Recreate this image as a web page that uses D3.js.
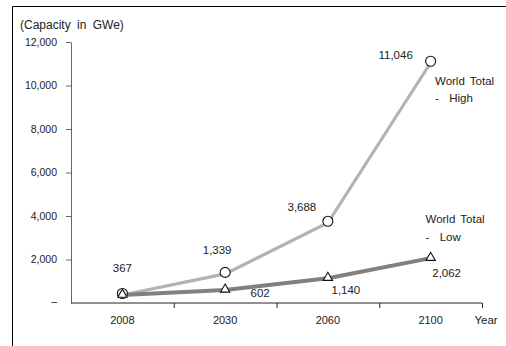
<!DOCTYPE html>
<html>
<head>
<meta charset="utf-8">
<script src="https://cdn.jsdelivr.net/npm/d3@7"></script>
<style>
  html, body { margin: 0; padding: 0; background: #fff; }
  svg { display: block; font-family: "Liberation Sans", Arial, sans-serif; }
</style>
</head>
<body>
<svg id="chart" width="506" height="346"></svg>
<script>
const years = ["2008", "2030", "2060", "2100"];
const highValues = [367, 1339, 3688, 11046];
const lowValues = [367, 602, 1140, 2062];
const highLabels = ["367", "1,339", "3,688", "11,046"];
const lowLabels = ["", "602", "1,140", "2,062"];
const yTicks = [0, 2000, 4000, 6000, 8000, 10000, 12000];
const yTickLabels = ["–", "2,000", "4,000", "6,000", "8,000", "10,000", "12,000"];
const unitTitle = "(Capacity in GWe)";
const xTitle = "Year";
const highName = ["World Total", "-  High"];
const lowName = ["World Total", "-  Low"];

const svg = d3.select("#chart");

// frame
svg.append("path")
  .attr("d", "M12.5,346 V6.5 H506")
  .attr("fill", "none").attr("stroke", "#000").attr("stroke-width", 1);

const x = d3.scaleBand().domain(years).range([71, 482]).padding(0);
const y = d3.scaleLinear().domain([0, 12000]).range([303, 42]);
const cx = d => x(d) + x.bandwidth() / 2;

// y axis
const yAxis = svg.append("g").attr("transform", "translate(71,0)")
  .call(d3.axisLeft(y).tickValues(yTicks)
    .tickFormat((d, i) => yTickLabels[i]).tickSize(5).tickPadding(9).tickSizeOuter(0));
yAxis.select(".domain").attr("stroke", "#666");
yAxis.selectAll(".tick line").attr("stroke", "#666")
  .attr("display", d => d === 0 ? "none" : null);
yAxis.selectAll(".tick text").attr("font-size", "10.5px").attr("fill", "#222")
  .attr("font-family", "Liberation Sans, Arial, sans-serif");
yAxis.selectAll(".tick").filter(d => d === 0).select("text").attr("dy", "0.1em");

// x axis
const xAxisG = svg.append("g").attr("transform", "translate(0,303)");
xAxisG.append("line").attr("x1", 71).attr("x2", 482).attr("y1", 0).attr("y2", 0)
  .attr("stroke", "#222").attr("stroke-width", 1);
xAxisG.selectAll("line.tk").data(years.slice(0))
  .enter().append("line").attr("class", "tk")
  .attr("x1", d => x(d) + x.bandwidth() + 0.5).attr("x2", d => x(d) + x.bandwidth() + 0.5)
  .attr("y1", 0).attr("y2", 5).attr("stroke", "#222");
xAxisG.selectAll("text.xl").data(years).enter().append("text").attr("class", "xl")
  .attr("x", d => cx(d)).attr("y", 17).attr("dy", "0.35em")
  .attr("text-anchor", "middle").attr("font-size", "11px").attr("fill", "#222")
  .text(d => d);
svg.append("text").attr("x", 486).attr("y", 320).attr("dy", "0.35em")
  .attr("text-anchor", "middle").attr("font-size", "11.5px").attr("fill", "#222").text(xTitle);

// unit title
svg.append("text").attr("x", 20).attr("y", 25).attr("dy", "0.35em")
  .attr("font-size", "12px").attr("word-spacing", "3px").attr("fill", "#222").text(unitTitle);

// lines
const line = d3.line().x((d, i) => cx(years[i])).y(d => y(d));
svg.append("path").datum(highValues).attr("d", line)
  .attr("fill", "none").attr("stroke", "#b3b3b3").attr("stroke-width", 3.2);
svg.append("path").datum(lowValues).attr("d", line)
  .attr("fill", "none").attr("stroke", "#808080").attr("stroke-width", 4);

// markers
svg.selectAll("circle.hi").data(highValues).enter().append("circle").attr("class", "hi")
  .attr("cx", (d, i) => cx(years[i])).attr("cy", d => y(d) - 1.5).attr("r", 5)
  .attr("fill", "#fff").attr("stroke", "#111").attr("stroke-width", 1.1);
const tri = d3.symbol().type(d3.symbolTriangle).size(38);
svg.selectAll("path.lo").data(lowValues).enter().append("path").attr("class", "lo")
  .attr("d", tri)
  .attr("transform", (d, i) => `translate(${cx(years[i])},${y(d) - 0.5})`)
  .attr("fill", "#fff").attr("stroke", "#111").attr("stroke-width", 1.1);

// data labels
const hiOff = [[0, -27], [-8, -24], [-26, -16], [-35, -8]];
const loOff = [[0, 0], [35, 3], [18, 12], [16, 14.5]];
svg.selectAll("text.hl").data(highValues).enter().append("text").attr("class", "hl")
  .attr("x", (d, i) => cx(years[i]) + hiOff[i][0]).attr("y", (d, i) => y(d) + hiOff[i][1])
  .attr("dy", "0.35em").attr("text-anchor", "middle").attr("font-size", "11.5px").attr("fill", "#222")
  .text((d, i) => highLabels[i]);
svg.selectAll("text.ll").data(lowValues).enter().append("text").attr("class", "ll")
  .attr("x", (d, i) => cx(years[i]) + loOff[i][0]).attr("y", (d, i) => y(d) + loOff[i][1])
  .attr("dy", "0.35em").attr("text-anchor", "middle").attr("font-size", "11.5px").attr("fill", "#222")
  .text((d, i) => lowLabels[i]);

// series names
function seriesName(lines, xPos, yPos) {
  lines.forEach((t, i) => {
    svg.append("text").attr("x", xPos).attr("y", yPos + i * 17.6).attr("dy", "0.35em")
      .attr("font-size", "11.5px").attr("word-spacing", "2px").attr("fill", "#222")
      .attr("xml:space", "preserve").style("white-space", "pre").text(t);
  });
}
seriesName(highName, 435, 80.7);
seriesName(lowName, 425.5, 219);
</script>
</body>
</html>
